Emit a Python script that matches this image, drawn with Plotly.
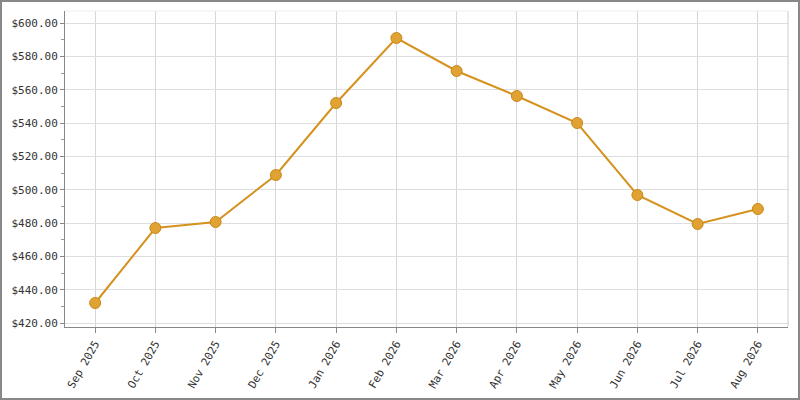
import plotly.graph_objects as go

months = ['Sep 2025', 'Oct 2025', 'Nov 2025', 'Dec 2025', 'Jan 2026', 'Feb 2026',
          'Mar 2026', 'Apr 2026', 'May 2026', 'Jun 2026', 'Jul 2026', 'Aug 2026']
prices = [432.0, 477.0, 480.6, 508.8, 552.0, 591.0, 571.2, 556.2, 540.0, 496.8, 479.4, 488.4]

y_ticks = [420, 440, 460, 480, 500, 520, 540, 560, 580, 600]
y_labels = ['$%.2f' % v for v in y_ticks]

font = dict(family='DejaVu Sans Mono', size=11, color='#333333')

# plot area in pixels: 65..788 wide, 11..327 tall
pw, ph = 723, 316

fig = go.Figure()
fig.add_trace(go.Scatter(
    x=list(range(len(months))), y=prices, mode='lines+markers',
    line=dict(color='#D4921E', width=2),
    marker=dict(size=11, color='#E0A232', line=dict(color='#C8891A', width=1)),
    hoverinfo='x+y',
))

fig.update_layout(
    width=800, height=400,
    margin=dict(l=65, r=12, t=11, b=73),
    paper_bgcolor='white', plot_bgcolor='white',
    font=font, showlegend=False,
    xaxis=dict(
        range=[-0.5, 11.5], tickmode='array',
        tickvals=list(range(len(months))), ticktext=months,
        tickangle=-60, ticks='outside', ticklen=5, tickcolor='#888888',
        showline=True, linecolor='#888888', linewidth=1,
        showgrid=True, gridcolor='#d6d6d6', gridwidth=1,
        mirror=False, zeroline=False, automargin=False,
    ),
    yaxis=dict(
        range=[417.6, 607.2], tickmode='array',
        tickvals=y_ticks, ticktext=y_labels,
        ticks='outside', ticklen=4, tickcolor='#888888',
        showline=True, linecolor='#888888', linewidth=1,
        showgrid=True, gridcolor='#dedede', gridwidth=1,
        zeroline=False, automargin=False,
        minor=dict(tickmode='linear', tick0=410, dtick=20, ticks='outside',
                   ticklen=3, tickcolor='#999999', showgrid=False),
    ),
    shapes=[
        dict(type='line', xref='x domain', yref='y domain', x0=1, x1=1, y0=0, y1=1,
             line=dict(color='#cccccc', width=1)),
        dict(type='line', xref='x domain', yref='y domain', x0=0, x1=1, y0=1, y1=1,
             line=dict(color='#eeeeee', width=1)),
        dict(type='rect', xref='paper', yref='paper',
             x0=-64/pw, x1=1 + 11/pw, y0=-72/ph, y1=1 + 10/ph,
             line=dict(color='#888888', width=2)),
    ],
)

# drop the default page margin so the figure sits at the window's corner
fig.write_html('out.html', config={'displayModeBar': False},
               post_script="document.body.style.margin='0';document.body.style.overflow='hidden';")
